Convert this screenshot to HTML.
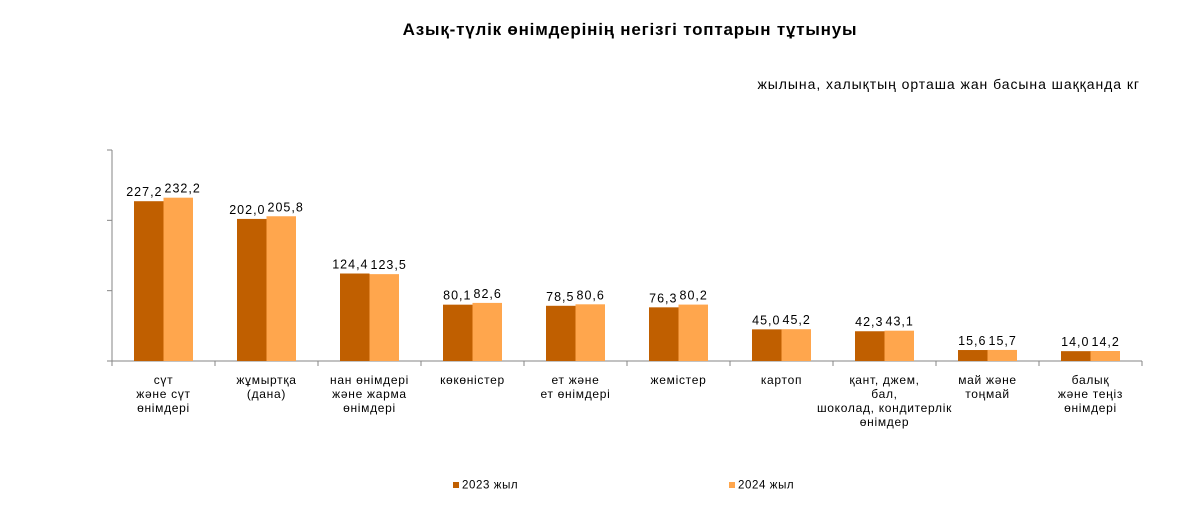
<!DOCTYPE html>
<html><head><meta charset="utf-8"><style>
body{margin:0;background:#fff;font-family:"Liberation Sans","DejaVu Sans",sans-serif;}
#wrap{position:relative;width:1202px;height:524px;overflow:hidden}
.t{position:absolute;color:#000;white-space:nowrap}
</style></head><body><div id="wrap">
<div class="t" style="left:0;width:1260px;text-align:center;top:20px;font-size:17px;font-weight:bold;letter-spacing:0.8px">Азық-түлік өнімдерінің негізгі топтарын тұтынуы</div>
<div class="t" style="right:62px;top:76px;font-size:14px;letter-spacing:0.95px">жылына, халықтың орташа жан басына шаққанда кг</div>
<svg id="s" width="1202" height="524" style="position:absolute;left:0;top:0"></svg>
</div>
<script>
const categories=[["сүт","және сүт","өнімдері"],["жұмыртқа","(дана)"],["нан өнімдері","және жарма","өнімдері"],["көкөністер"],["ет және","ет өнімдері"],["жемістер"],["картоп"],["қант, джем,","бал,","шоколад, кондитерлік","өнімдер"],["май және","тоңмай"],["балық","және теңіз","өнімдері"]];
const values2023=[227.2,202.0,124.4,80.1,78.5,76.3,45.0,42.3,15.6,14.0];
const values2024=[232.2,205.8,123.5,82.6,80.6,80.2,45.2,43.1,15.7,14.2];
const seriesNames=["2023 жыл","2024 жыл"];
const yTicks=[0,100,200,300];
const NS="http://www.w3.org/2000/svg",s=document.getElementById('s');
const x0=112,step=103,base=361,yMax=300,ph=211;
const y=v=>base-v/yMax*ph;
const cx=i=>x0+step*i+step/2;
function mk(t,a){const e=document.createElementNS(NS,t);for(const k in a)e.setAttribute(k,a[k]);s.appendChild(e);return e;}
let ax=mk('line',{x1:x0,y1:150,x2:x0,y2:base,stroke:'#868686'});


yTicks.forEach(v=>{const l=mk('line',{x1:x0-5,x2:x0,y1:y(v),y2:y(v),stroke:'#868686'});

});
let xa=mk('line',{x1:x0-5,y1:base,x2:x0+step*categories.length,y2:base,stroke:'#868686'});


for(let i=0;i<=categories.length;i++){const l=mk('line',{x1:x0+step*i,x2:x0+step*i,y1:base,y2:base+5,stroke:'#868686'});

}
const cols=['#C05F00','#FFA64D'],bw=29.5;
categories.forEach((c,i)=>{
 [values2023[i],values2024[i]].forEach((v,j)=>{
  const bx=cx(i)-bw+j*bw;
  const r=mk('rect',{x:bx,y:y(v),width:bw,height:base-y(v),fill:cols[j]});
  
  
  const t=mk('text',{x:j?cx(i)+1:cx(i)-1,y:y(v)-5,'font-size':12.5,'text-anchor':j?'start':'end','letter-spacing':'1','font-family':'Liberation Sans, sans-serif'});
  t.textContent=v.toFixed(1).replace('.',',');
  
  
 });
 c.forEach((ln,k)=>{const t=mk('text',{x:cx(i),y:384+k*14,'font-size':12,'text-anchor':'middle','letter-spacing':'0.7','font-family':'Liberation Sans, sans-serif'});
  t.textContent=ln;
  
  });
});
[[453,seriesNames[0]],[729,seriesNames[1]]].forEach((p,j)=>{
 const r=mk('rect',{x:p[0],y:482,width:6,height:6,fill:cols[j]});
 
 
 const t=mk('text',{x:p[0]+9,y:488.5,'font-size':11.5,'letter-spacing':'0.6','font-family':'Liberation Sans, sans-serif'});
 t.textContent=p[1];
 
 
});
</script></body></html>
